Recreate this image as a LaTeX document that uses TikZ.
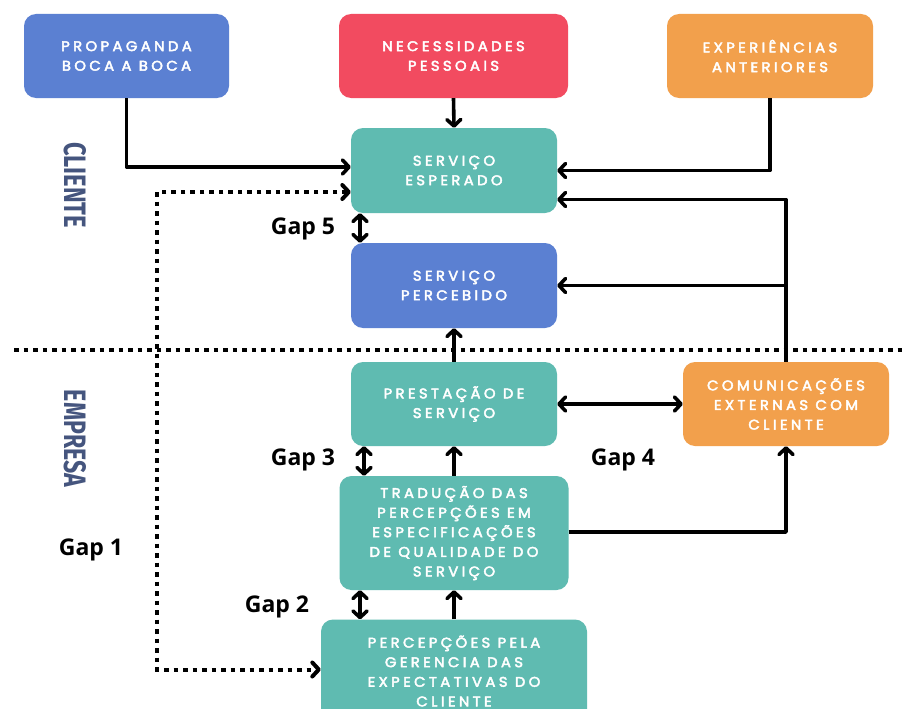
\documentclass[tikz,border=0pt]{standalone}
\usepackage{fontspec}
\usetikzlibrary{arrows.meta}
\newfontfamily\boxfont[LetterSpace=24,FakeStretch=1.06]{Poppins}
\newfontfamily\gapfont{Open Sans}
\newfontfamily\condfont{Fira Sans}
\definecolor{cblue}{HTML}{5B80D2}
\definecolor{cred}{HTML}{F24B60}
\definecolor{corange}{HTML}{F2A04C}
\definecolor{cteal}{HTML}{5FBBB1}
\definecolor{cslate}{HTML}{45557E}
\newcommand\heavytext{\special{pdf:literal direct 2 Tr 0.45 w 1 1 1 RG}}
\newcommand\normtext{\special{pdf:literal direct 0 Tr}}
\tikzset{
  bx/.style={rounded corners=12pt, draw=none, align=center, text=white,
    font=\boxfont\fontsize{14}{19.6}\selectfont\heavytext, inner sep=0pt},
  ln/.style={line width=3.6pt, line join=round},
  arr/.style={ln, -{Straight Barb[length=6.5pt,width=14pt,round]}},
  darr/.style={ln, {Straight Barb[length=6.5pt,width=14pt,round]}-{Straight Barb[length=6.5pt,width=14pt,round]}},
  dots/.style={line width=4pt, dash pattern=on 4.5pt off 5pt},
  ddots/.style={dots, {Straight Barb[length=6.5pt,width=14pt,round]}-{Straight Barb[length=6.5pt,width=14pt,round]}},
  gap/.style={font=\normtext\gapfont\bfseries\fontsize{23}{26}\selectfont, inner sep=0pt},
  side/.style={text=cslate, rotate=-90, inner sep=0pt, font=\normtext}
}
\begin{document}
\begin{tikzpicture}[x=1pt,y=-1pt]
\clip (0,0) rectangle (902,709);
\useasboundingbox (0,0) rectangle (902,709);
\fill[white] (0,0) rectangle (902,709);
% boxes
\node[bx, fill=cblue, minimum width=205pt, minimum height=84pt] (prop) at (126.5,56) {PROPAGANDA\\BOCA A BOCA};
\node[bx, fill=cred, minimum width=229pt, minimum height=84pt] (nec) at (453.5,56) {NECESSIDADES\\PESSOAIS};
\node[bx, fill=corange, minimum width=206pt, minimum height=84pt] (exp) at (770,56) {EXPERIÊNCIAS\\ANTERIORES};
\node[bx, fill=cteal, minimum width=206pt, minimum height=85pt] (esp) at (454,170.5) {SERVIÇO\\ESPERADO};
\node[bx, fill=cblue, minimum width=206pt, minimum height=85pt] (perc) at (454,285.5) {SERVIÇO\\PERCEBIDO};
\node[bx, fill=cteal, minimum width=206pt, minimum height=84pt] (prest) at (454,404) {PRESTAÇÃO DE\\SERVIÇO};
\node[bx, fill=corange, minimum width=206pt, minimum height=84pt] (com) at (786,404) {COMUNICAÇÕES\\EXTERNAS COM\\CLIENTE};
\node[bx, fill=cteal, minimum width=229pt, minimum height=114pt] (trad) at (454,533) {TRADUÇÃO DAS\\PERCEPÇÕES EM\\ESPECIFICAÇÕES\\DE QUALIDADE DO\\SERVIÇO};
\node[bx, fill=cteal, minimum width=266pt, minimum height=103pt] (pger) at (454,671) {PERCEPÇÕES PELA\\GERENCIA DAS\\EXPECTATIVAS DO\\CLIENTE};
% side labels
\node[side] (cli) at (75,185) {\resizebox{86pt}{22pt}{\condfont\bfseries CLIENTE}};
\node[side] (emp) at (75,438.5) {\resizebox{97pt}{22pt}{\condfont\bfseries EMPRESA}};
% separator
\coordinate (sepL) at (14,350);
\coordinate (sepR) at (902,350);
\draw[dots] (sepL) -- (sepR);
% connectors
\draw[arr] (prop.south) |- ([yshift=3.5pt]esp.west);
\draw[arr] (nec.south) -- (esp.north);
\draw[arr] (exp.south) |- (esp.east);
\draw[arr] (com.north) |- ([yshift=-29pt]esp.east);
\draw[arr] (com.north |- perc.east) -- (perc.east);
\draw[darr] ([xshift=-94pt]esp.south) -- ([xshift=-94pt]perc.north);
\draw[arr] (prest.north) -- (perc.south);
\draw[darr] (prest.east) -- (com.west);
\draw[darr] ([xshift=-90pt]prest.south) -- ([xshift=-90pt]trad.north);
\draw[arr] (trad.north) -- (prest.south);
\draw[arr] ([yshift=1pt]trad.east) -| (com.south);
\draw[darr] ([xshift=-94pt]trad.south) -- ([xshift=-94pt]pger.north);
\draw[arr] (pger.north) -- (trad.south);
\coordinate (dl) at (157,192);
\draw[ddots] ([yshift=-21.5pt]esp.west) -- (dl) |- ([yshift=1.5pt]pger.west);
% gap labels
\node[gap] (g5) at (303,229) {Gap 5};
\node[gap] (g3) at (303,460) {Gap 3};
\node[gap] (g4) at (623,460) {Gap 4};
\node[gap] (g2) at (277,607) {Gap 2};
\node[gap] (g1) at (91,550) {Gap 1};
\end{tikzpicture}
\end{document}
